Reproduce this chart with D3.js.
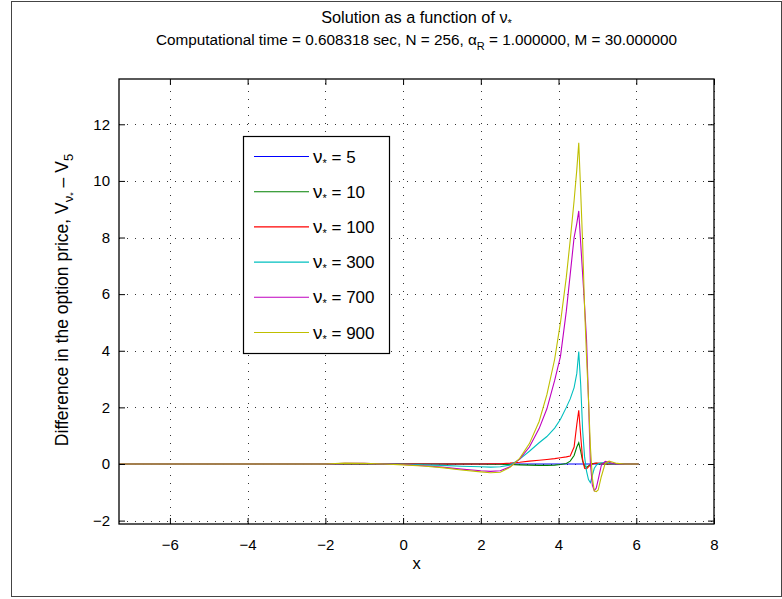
<!DOCTYPE html>
<html>
<head>
<meta charset="utf-8">
<script src="https://cdn.jsdelivr.net/npm/d3@7"></script>
<style>
  body { margin: 0; background: #fff; }
  text { font-family: "Liberation Sans", Arial, sans-serif; fill: #000; }
</style>
</head>
<body>
<div id="container"></div>
<script>
/**
 * CONSTANTS AND GLOBALS
 * */
const width = 782,
  height = 599,
  margin = { top: 79, bottom: 75, left: 119, right: 68 },
  fontSize = 15,
  titleSize = 15.3,
  legendSize = 17;

// DATA
const xs = [-7.3, -5, -3, -2, -1.5, -1, -0.5, 0, 0.5, 1, 1.5, 2, 2.25, 2.5, 2.75, 3,
  3.25, 3.5, 3.7, 3.9, 4.05, 4.2, 4.3, 4.4, 4.47, 4.52, 4.57, 4.62, 4.67, 4.72, 4.77,
  4.82, 4.87, 4.92, 4.97, 5.02, 5.1, 5.2, 5.3, 5.4, 5.5, 5.7, 6.06];

const nu5 = [0, 0, 0, 0, 0, 0, 0, 0, 0, 0, 0, 0, 0, 0, 0, 0,
  0, 0, 0, 0, 0, 0, 0, 0, 0, 0, 0, 0, 0, 0, 0,
  0, 0, 0, 0, 0, 0, 0, 0, 0, 0, 0, 0];
const nu10 = [0, 0, 0, 0, 0, 0, 0, 0, 0, 0, 0, 0, -0.01, -0.01, -0.02, -0.03,
  -0.04, -0.05, -0.05, -0.04, -0.02, 0.02, 0.1, 0.3, 0.6, 0.75, 0.45, 0.1, -0.08, -0.12, -0.07,
  -0.02, 0.01, 0.02, 0.02, 0.01, 0, 0, 0, 0, 0, 0, 0];
const nu100 = [0, 0, 0, 0, 0, 0, 0, 0, 0, 0, 0, 0, 0.01, 0.01, 0.03, 0.06,
  0.1, 0.13, 0.16, 0.19, 0.22, 0.25, 0.28, 0.6, 1.4, 1.9, 1.0, 0.15, -0.15, -0.17, -0.1,
  -0.03, 0, 0.02, 0.03, 0.03, 0.02, 0.01, 0, 0, 0, 0, 0];
const nu300 = [0, 0, 0, 0, 0.01, 0.01, 0, -0.01, -0.03, -0.05, -0.08, -0.1, -0.11, -0.1, -0.04, 0.17,
  0.45, 0.75, 0.97, 1.27, 1.58, 2.0, 2.3, 2.7, 3.2, 3.97, 2.8, 1.2, 0.25, -0.25, -0.55,
  -0.66, -0.4, -0.15, -0.05, 0.01, 0.04, 0.05, 0.02, 0, 0, 0, 0];
const nu700 = [0, 0, 0, 0, 0.02, 0.02, 0, -0.02, -0.06, -0.11, -0.18, -0.24, -0.26, -0.24, -0.1, 0.17,
  0.6, 1.25, 1.95, 2.95, 3.8, 5.4, 6.7, 8.0, 8.5, 8.94, 7.8, 6.7, 5.6, 4.4, 2.3,
  0, -0.75, -0.95, -0.85, -0.55, -0.05, 0.09, 0.06, 0.02, 0, 0, 0];
const nu900 = [0, 0, 0, 0, 0.03, 0.02, 0, -0.03, -0.07, -0.13, -0.21, -0.28, -0.31, -0.29, -0.12, 0.2,
  0.72, 1.5, 2.45, 3.7, 5.0, 6.6, 7.9, 9.3, 10.4, 11.35, 9.6, 7.8, 5.5, 3.8, 2.3,
  0.6, -0.5, -0.95, -0.98, -0.92, -0.45, 0.02, 0.1, 0.06, 0.02, 0, 0];

const seriesNames = ["5", "10", "100", "300", "700", "900"];
const seriesValues = [nu5, nu10, nu100, nu300, nu700, nu900];
const seriesColors = ["#0000ff", "#008000", "#ff0000", "#00bfbf", "#bf00bf", "#bfbf00"];

const xTicks = [-6, -4, -2, 0, 2, 4, 6, 8];
const yTicks = [-2, 0, 2, 4, 6, 8, 10, 12];
const xDomain = [-7.31, 8];
const yDomain = [-2.12, 13.6];

/**
 * SCALES
 * */
const xScale = d3.scaleLinear()
  .domain(xDomain)
  .range([margin.left, width - margin.right]);

const yScale = d3.scaleLinear()
  .domain(yDomain)
  .range([height - margin.bottom, margin.top]);

/**
 * CREATE SVG ELEMENT
 * */
const svg = d3.select("#container")
  .append("svg")
  .attr("width", width)
  .attr("height", height);

// figure frame
svg.append("rect")
  .attr("x", 11.5).attr("y", 1.5)
  .attr("width", 770).attr("height", 595)
  .attr("fill", "#fff")
  .attr("stroke", "#444");

const x0 = xScale.range()[0], x1 = xScale.range()[1];
const y0 = yScale.range()[0], y1 = yScale.range()[1];

// GRID (dotted)
const grid = svg.append("g")
  .attr("stroke", "#333")
  .attr("stroke-width", 1)
  .attr("stroke-dasharray", "1,7");

grid.selectAll("line.vx")
  .data(xTicks)
  .join("line")
  .attr("class", "vx")
  .attr("x1", d => Math.round(xScale(d)) + 0.5)
  .attr("x2", d => Math.round(xScale(d)) + 0.5)
  .attr("y1", y0).attr("y2", y1);

grid.selectAll("line.hy")
  .data(yTicks)
  .join("line")
  .attr("class", "hy")
  .attr("y1", d => Math.round(yScale(d)) + 0.5)
  .attr("y2", d => Math.round(yScale(d)) + 0.5)
  .attr("x1", x0).attr("x2", x1);

/**
 * LINES
 * */
const lineGen = d3.line()
  .x((d, i) => xScale(xs[i]))
  .y(d => yScale(d));

svg.append("g")
  .selectAll("path")
  .data(seriesValues)
  .join("path")
  .attr("d", d => lineGen(d))
  .attr("fill", "none")
  .attr("stroke", (d, i) => seriesColors[i])
  .attr("stroke-width", 1.1);

/**
 * AXES (box with inward ticks on all sides)
 * */
const tickLen = 6;
const fmt = d => d < 0 ? "\u2212" + Math.abs(d) : String(d);

const xAxisB = d3.axisBottom(xScale).tickValues(xTicks).tickSizeInner(-tickLen).tickSizeOuter(0).tickPadding(15).tickFormat(fmt);
const xAxisT = d3.axisTop(xScale).tickValues(xTicks).tickSizeInner(-tickLen).tickSizeOuter(0).tickFormat("");
const yAxisL = d3.axisLeft(yScale).tickValues(yTicks).tickSizeInner(-tickLen).tickSizeOuter(0).tickPadding(9).tickFormat(fmt);
const yAxisR = d3.axisRight(yScale).tickValues(yTicks).tickSizeInner(-tickLen).tickSizeOuter(0).tickFormat("");

function styleAxis(g) {
  g.select(".domain").remove();
  g.selectAll("line").attr("stroke", "#000");
  g.selectAll("text")
    .style("font-family", "Liberation Sans, Arial, sans-serif")
    .style("font-size", fontSize + "px")
    .attr("fill", "#000");
}

svg.append("g").attr("transform", `translate(0,${y0})`).call(xAxisB).call(styleAxis);
svg.append("g").attr("transform", `translate(0,${y1})`).call(xAxisT).call(styleAxis);
svg.append("g").attr("transform", `translate(${x0},0)`).call(yAxisL).call(styleAxis);
svg.append("g").attr("transform", `translate(${x1},0)`).call(yAxisR).call(styleAxis);

svg.append("rect")
  .attr("x", x0).attr("y", y1)
  .attr("width", x1 - x0).attr("height", y0 - y1)
  .attr("fill", "none")
  .attr("stroke", "#000")
  .attr("stroke-width", 1.3);

/**
 * TITLE AND LABELS
 * */
const cx = (x0 + x1) / 2;

const t1 = svg.append("text")
  .attr("x", cx).attr("y", 23)
  .attr("text-anchor", "middle")
  .style("font-size", titleSize + "px");
t1.append("tspan").style("font-size", "16.3px").text("Solution as a function of \u03bd");
t1.append("tspan").attr("dy", 4).style("font-size", "11px").text("*");

const t2 = svg.append("text")
  .attr("x", cx).attr("y", 45)
  .attr("text-anchor", "middle")
  .style("font-size", titleSize + "px");
t2.append("tspan").text("Computational time = 0.608318 sec, N = 256, \u03b1");
t2.append("tspan").attr("dy", 5).style("font-size", "11px").text("R");
t2.append("tspan").attr("dy", -5).text(" = 1.000000, M = 30.000000");

svg.append("text")
  .attr("x", cx).attr("y", 569)
  .attr("text-anchor", "middle")
  .style("font-size", "16.5px")
  .text("x");

const yl = svg.append("text")
  .attr("transform", `translate(68,300) rotate(-90)`)
  .attr("text-anchor", "middle")
  .style("font-size", "17.5px");
yl.append("tspan").text("Difference in the option price, V");
yl.append("tspan").attr("dy", 5).style("font-size", "13px").text("\u03bd");
yl.append("tspan").attr("dy", 3).style("font-size", "9px").text("*");
yl.append("tspan").attr("dy", -8).text(" \u2013 V");
yl.append("tspan").attr("dy", 5).style("font-size", "13px").text("5");

/**
 * LEGEND
 * */
const legend = svg.append("g");
legend.append("rect")
  .attr("x", 243.5).attr("y", 136.5)
  .attr("width", 146).attr("height", 217)
  .attr("fill", "#fff")
  .attr("stroke", "#000")
  .attr("stroke-width", 1.2);

const item = legend.selectAll("g.item")
  .data(seriesNames)
  .join("g")
  .attr("class", "item")
  .attr("transform", (d, i) => `translate(0,${156.5 + i * 35.2})`);

item.append("line")
  .attr("x1", 254).attr("x2", 309)
  .attr("stroke", (d, i) => seriesColors[i])
  .attr("stroke-width", 1.1);

const lt = item.append("text")
  .attr("x", 313).attr("y", 6)
  .style("font-size", legendSize + "px");
lt.append("tspan").style("font-size", "19px").text("\u03bd");
lt.append("tspan").attr("dy", 4).style("font-size", "11px").text("*");
lt.append("tspan").attr("dy", -4).text(d => " = " + d);
</script>
</body>
</html>
